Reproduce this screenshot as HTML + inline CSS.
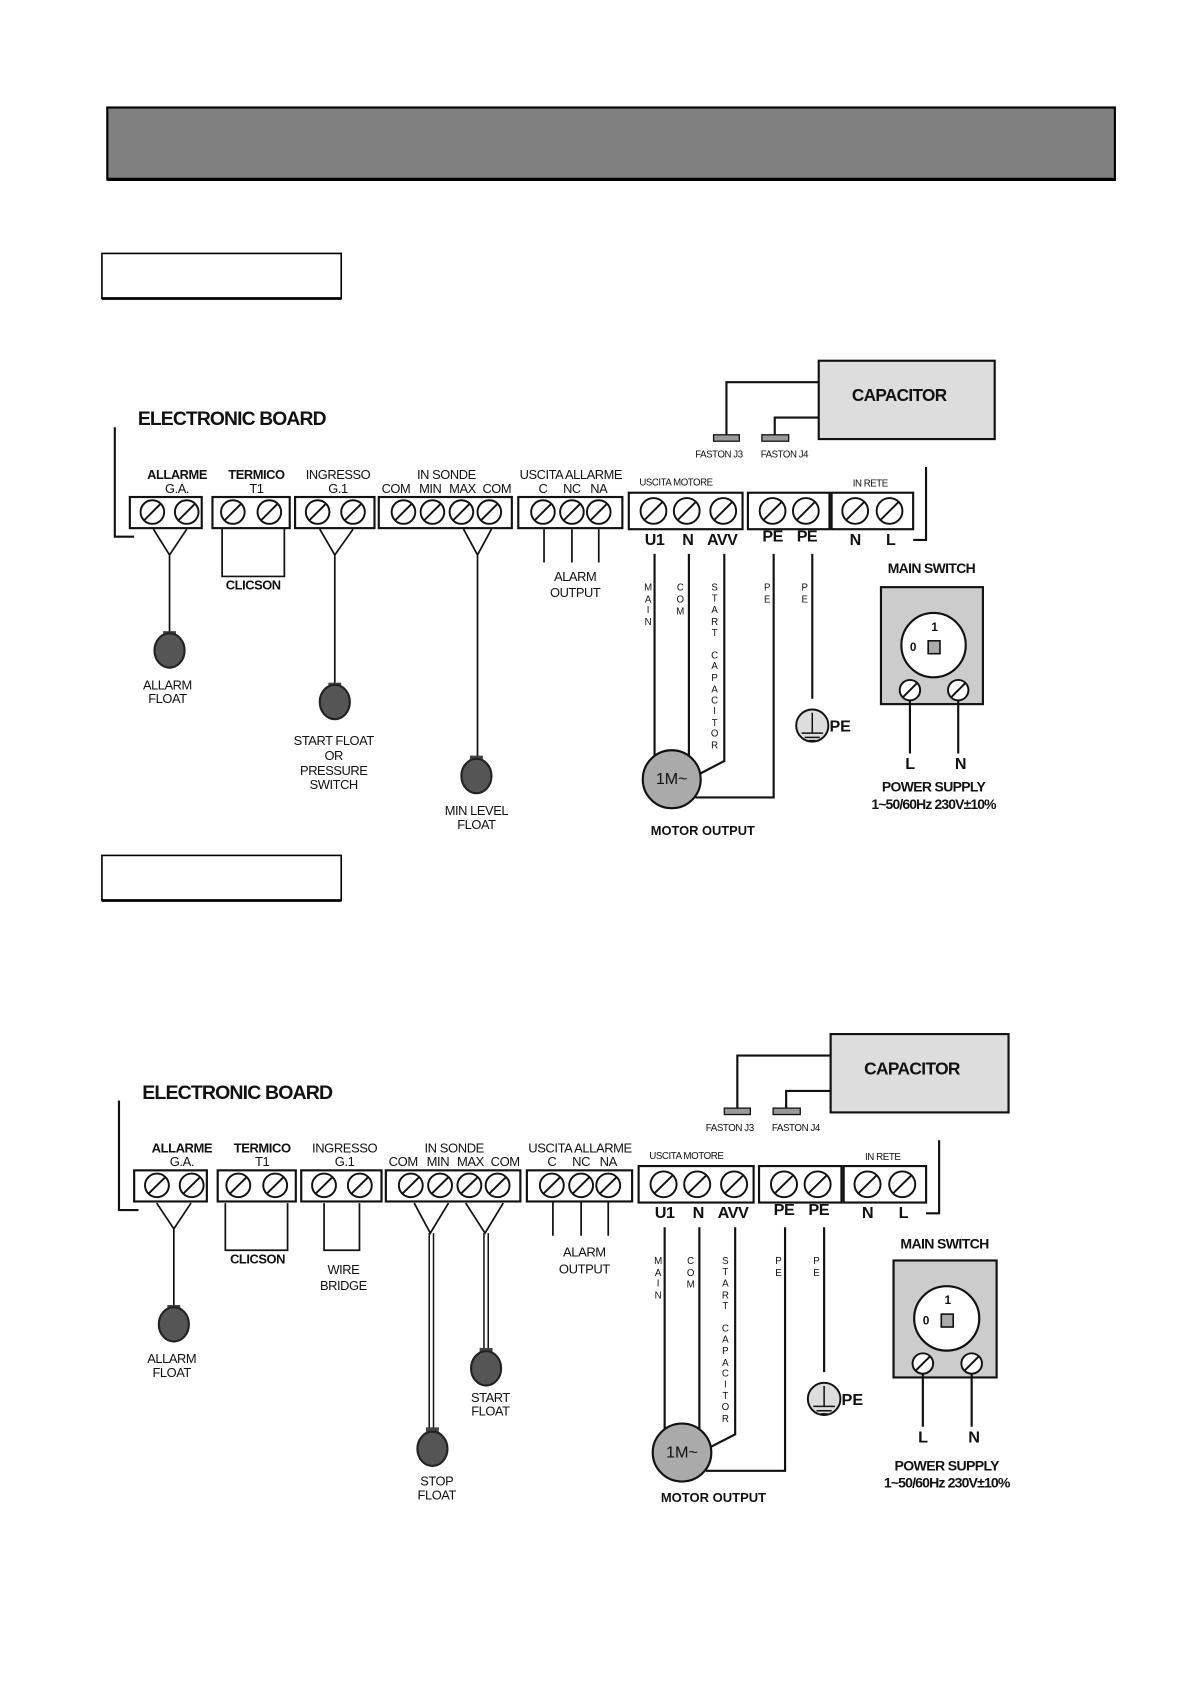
<!DOCTYPE html>
<html><head><meta charset="utf-8"><style>
html,body{margin:0;padding:0;background:#fff;}
svg{display:block;}
text{font-family:"Liberation Sans",Arial,sans-serif;fill:#111;text-anchor:middle;dominant-baseline:central;}
.t{font-size:12px;letter-spacing:-0.4px;}
.b{font-weight:bold;}
.sm{font-size:9px;letter-spacing:-0.4px;}
.v{font-size:9px;}
.big{font-size:15px;font-weight:bold;letter-spacing:-0.5px;}
.ln{stroke:#111;stroke-width:2;fill:none;}
.bx{stroke:#111;stroke-width:2;fill:#fff;}
.sc circle{stroke:#111;stroke-width:1.8;fill:#fff;}
.sc line{stroke:#111;stroke-width:1.8;}
.fl{fill:#555;stroke:#222;stroke-width:2;}
</style></head><body>
<svg width="1190" height="1684" viewBox="0 0 1109 1569" xmlns="http://www.w3.org/2000/svg">
<rect x="100" y="100" width="939" height="67" fill="#808080" stroke="#000" stroke-width="2"/>
<line x1="100" y1="167" x2="1040" y2="167" stroke="#000" stroke-width="3"/>
<rect x="95" y="236" width="223" height="42" fill="#fff" stroke="#000" stroke-width="1.5"/>
<line x1="95" y1="278" x2="318" y2="278" stroke="#000" stroke-width="2.5"/>
<rect x="95" y="797" width="223" height="42" fill="#fff" stroke="#000" stroke-width="1.5"/>
<line x1="95" y1="839" x2="318" y2="839" stroke="#000" stroke-width="2.5"/>

<!-- COMMON DIAGRAM 1 -->
<g id="d1">
<text x="216" y="391" style="font-size:18px;font-weight:bold;letter-spacing:-0.8px">ELECTRONIC BOARD</text>
<path class="ln" d="M107,398 V500 H125"/>
<path class="ln" d="M863,435 V503 H851"/>
<!-- capacitor -->
<rect x="763" y="336" width="164" height="73" fill="#ddd" stroke="#111" stroke-width="2"/>
<text x="838" y="368" style="font-size:16px;font-weight:bold;letter-spacing:-0.6px">CAPACITOR</text>
<path class="ln" d="M763,356 H677 V405"/>
<path class="ln" d="M763,389 H722 V405"/>
<rect x="665" y="405" width="24" height="6" fill="#999" stroke="#111" stroke-width="1.2"/>
<rect x="710" y="405" width="25" height="6" fill="#999" stroke="#111" stroke-width="1.2"/>
<text class="sm" x="670" y="424">FASTON J3</text>
<text class="sm" x="731" y="424">FASTON J4</text>
<!-- labels top -->
<text class="t b" x="165" y="442">ALLARME</text><text class="t" x="165" y="455">G.A.</text>
<text class="t b" x="239" y="442">TERMICO</text><text class="t" x="239" y="455">T1</text>
<text class="t" x="315" y="442">INGRESSO</text><text class="t" x="315" y="455">G.1</text>
<text class="t" x="416" y="442">IN SONDE</text>
<text class="t" x="369" y="455">COM</text><text class="t" x="401" y="455">MIN</text><text class="t" x="431" y="455">MAX</text><text class="t" x="463" y="455">COM</text>
<text class="t" x="532" y="442">USCITA ALLARME</text>
<text class="t" x="506" y="455">C</text><text class="t" x="533" y="455">NC</text><text class="t" x="558" y="455">NA</text>
<text class="sm" x="630" y="450">USCITA MOTORE</text>
<text class="sm" x="811" y="451">IN RETE</text>
<!-- boxes -->
<rect class="bx" x="121" y="463" width="67" height="29"/>
<rect class="bx" x="198" y="463" width="72" height="29"/>
<rect class="bx" x="275" y="463" width="74" height="29"/>
<rect class="bx" x="353" y="463" width="124" height="29"/>
<rect class="bx" x="483" y="463" width="97" height="29"/>
<rect class="bx" x="586" y="459" width="106" height="34"/>
<rect class="bx" x="697" y="459" width="76" height="34"/>
<rect class="bx" x="775" y="459" width="76" height="34"/>
<!-- screws -->
<g class="sc">
<circle cx="142" cy="477" r="11"/><line x1="134" y1="485" x2="150" y2="469"/>
<circle cx="174" cy="477" r="11"/><line x1="166" y1="485" x2="182" y2="469"/>
<circle cx="217" cy="477" r="11"/><line x1="209" y1="485" x2="225" y2="469"/>
<circle cx="251" cy="477" r="11"/><line x1="243" y1="485" x2="259" y2="469"/>
<circle cx="296" cy="477" r="11"/><line x1="288" y1="485" x2="304" y2="469"/>
<circle cx="329" cy="477" r="11"/><line x1="321" y1="485" x2="337" y2="469"/>
<circle cx="376" cy="477" r="11"/><line x1="368" y1="485" x2="384" y2="469"/>
<circle cx="403" cy="477" r="11"/><line x1="395" y1="485" x2="411" y2="469"/>
<circle cx="430" cy="477" r="11"/><line x1="422" y1="485" x2="438" y2="469"/>
<circle cx="456" cy="477" r="11"/><line x1="448" y1="485" x2="464" y2="469"/>
<circle cx="506" cy="477" r="11"/><line x1="498" y1="485" x2="514" y2="469"/>
<circle cx="533" cy="477" r="11"/><line x1="525" y1="485" x2="541" y2="469"/>
<circle cx="558" cy="477" r="11"/><line x1="550" y1="485" x2="566" y2="469"/>
<circle cx="609" cy="476" r="12"/><line x1="600" y1="485" x2="618" y2="467"/>
<circle cx="640" cy="476" r="12"/><line x1="631" y1="485" x2="649" y2="467"/>
<circle cx="674" cy="476" r="12"/><line x1="665" y1="485" x2="683" y2="467"/>
<circle cx="720" cy="476" r="12"/><line x1="711" y1="485" x2="729" y2="467"/>
<circle cx="751" cy="476" r="12"/><line x1="742" y1="485" x2="760" y2="467"/>
<circle cx="797" cy="476" r="12"/><line x1="788" y1="485" x2="806" y2="467"/>
<circle cx="829" cy="476" r="12"/><line x1="820" y1="485" x2="838" y2="467"/>
</g>
<text class="big" x="610" y="503">U1</text><text class="big" x="641" y="503">N</text><text class="big" x="673" y="503">AVV</text>
<text class="big" x="720" y="500">PE</text><text class="big" x="752" y="500">PE</text>
<text class="big" x="797" y="503">N</text><text class="big" x="830" y="503">L</text>
<!-- alarm output -->
<path class="ln" d="M507,493 V524 M533,493 V524 M558,493 V524" style="stroke-width:1.6"/>
<text class="t" x="536" y="537">ALARM</text><text class="t" x="536" y="552">OUTPUT</text>
<!-- motor wires -->
<path class="ln" d="M610,516 V705 M642,516 V705 M675,516 V709 L652,721 M721,516 V743 H648 M757,516 V651"/>
<circle cx="626" cy="726" r="27" fill="#aaa" stroke="#111" stroke-width="2"/>
<text x="626" y="726" style="font-size:15px">1M~</text>
<text x="655" y="774" style="font-size:12px;font-weight:bold">MOTOR OUTPUT</text>
<g class="v">
<text x="604" y="548">M</text><text x="604" y="559">A</text><text x="604" y="569">I</text><text x="604" y="580">N</text>
<text x="634" y="548">C</text><text x="634" y="559">O</text><text x="634" y="570">M</text>
<text x="666" y="548">S</text><text x="666" y="558">T</text><text x="666" y="569">A</text><text x="666" y="580">R</text><text x="666" y="590">T</text>
<text x="666" y="611">C</text><text x="666" y="621">A</text><text x="666" y="632">P</text><text x="666" y="643">A</text><text x="666" y="653">C</text><text x="666" y="663">I</text><text x="666" y="674">T</text><text x="666" y="684">O</text><text x="666" y="695">R</text>
<text x="715" y="548">P</text><text x="715" y="559">E</text>
<text x="750" y="548">P</text><text x="750" y="559">E</text>
</g>
<circle cx="757" cy="676" r="15" fill="#ddd" stroke="#111" stroke-width="1.8"/>
<path class="ln" d="M757,664 V683 M747,683 H767 M750,687 H764 M754,690 H760" style="stroke-width:1.4"/>
<text x="783" y="677" style="font-size:15px;font-weight:bold">PE</text>
<!-- main switch -->
<text x="868" y="529" style="font-size:13px;font-weight:bold;letter-spacing:-0.6px">MAIN SWITCH</text>
<rect x="821" y="547" width="95" height="109" fill="#ccc" stroke="#111" stroke-width="2"/>
<circle cx="870" cy="601" r="30" fill="#fff" stroke="#111" stroke-width="2"/>
<text x="871" y="584" style="font-size:11px;font-weight:bold">1</text>
<text x="851" y="603" style="font-size:11px;font-weight:bold">0</text>
<rect x="865" y="597" width="11" height="12" fill="#aaa" stroke="#111" stroke-width="1.5"/>
<g class="sc">
<circle cx="848" cy="643" r="9.5"/><line x1="841" y1="650" x2="855" y2="636"/>
<circle cx="893" cy="643" r="9.5"/><line x1="886" y1="650" x2="900" y2="636"/>
</g>
<path class="ln" d="M848,653 V702 M893,653 V702"/>
<text class="big" x="848" y="712">L</text><text class="big" x="895" y="712">N</text>
<text x="870" y="733" style="font-size:13px;font-weight:bold;letter-spacing:-0.6px">POWER SUPPLY</text>
<text x="870" y="749" style="font-size:13px;font-weight:bold;letter-spacing:-0.8px">1~50/60Hz 230V±10%</text>
</g>

<!-- D1 specific -->
<path class="ln" d="M143,493 L158,517 L174,493 M158,517 V592" style="stroke-width:1.6"/>
<rect x="152" y="588" width="12" height="5" fill="#444"/>
<ellipse class="fl" cx="158" cy="606" rx="14" ry="16"/>
<text class="t" x="156" y="638">ALLARM</text><text class="t" x="156" y="651">FLOAT</text>
<path class="ln" d="M207,492 V537 H265 V492" style="stroke-width:1.6"/>
<text class="t b" x="236" y="545">CLICSON</text>
<path class="ln" d="M298,493 L312,517 L329,493 M312,517 V640" style="stroke-width:1.6"/>
<rect x="306" y="636" width="12" height="5" fill="#444"/>
<ellipse class="fl" cx="312" cy="654" rx="14" ry="16"/>
<text class="t" x="311" y="690">START FLOAT</text><text class="t" x="311" y="704">OR</text><text class="t" x="311" y="718">PRESSURE</text><text class="t" x="311" y="731">SWITCH</text>
<path class="ln" d="M432,493 L445,517 L458,493 M445,517 V708" style="stroke-width:1.6"/>
<rect x="438" y="704" width="12" height="5" fill="#444"/>
<ellipse class="fl" cx="444" cy="723" rx="14" ry="16"/>
<text class="t" x="444" y="755">MIN LEVEL</text><text class="t" x="444" y="768">FLOAT</text>

<!-- D2 common -->
<g transform="translate(2.7,627.5) scale(1.011,1)">
<text x="216" y="391" style="font-size:18px;font-weight:bold;letter-spacing:-0.8px">ELECTRONIC BOARD</text>
<path class="ln" d="M107,398 V500 H125"/>
<path class="ln" d="M863,435 V503 H851"/>
<rect x="763" y="336" width="164" height="73" fill="#ddd" stroke="#111" stroke-width="2"/>
<text x="838" y="368" style="font-size:16px;font-weight:bold;letter-spacing:-0.6px">CAPACITOR</text>
<path class="ln" d="M763,356 H677 V405"/>
<path class="ln" d="M763,389 H722 V405"/>
<rect x="665" y="405" width="24" height="6" fill="#999" stroke="#111" stroke-width="1.2"/>
<rect x="710" y="405" width="25" height="6" fill="#999" stroke="#111" stroke-width="1.2"/>
<text class="sm" x="670" y="424">FASTON J3</text>
<text class="sm" x="731" y="424">FASTON J4</text>
<text class="t b" x="165" y="442">ALLARME</text><text class="t" x="165" y="455">G.A.</text>
<text class="t b" x="239" y="442">TERMICO</text><text class="t" x="239" y="455">T1</text>
<text class="t" x="315" y="442">INGRESSO</text><text class="t" x="315" y="455">G.1</text>
<text class="t" x="416" y="442">IN SONDE</text>
<text class="t" x="369" y="455">COM</text><text class="t" x="401" y="455">MIN</text><text class="t" x="431" y="455">MAX</text><text class="t" x="463" y="455">COM</text>
<text class="t" x="532" y="442">USCITA ALLARME</text>
<text class="t" x="506" y="455">C</text><text class="t" x="533" y="455">NC</text><text class="t" x="558" y="455">NA</text>
<text class="sm" x="630" y="450">USCITA MOTORE</text>
<text class="sm" x="811" y="451">IN RETE</text>
<rect class="bx" x="121" y="463" width="67" height="29"/>
<rect class="bx" x="198" y="463" width="72" height="29"/>
<rect class="bx" x="275" y="463" width="74" height="29"/>
<rect class="bx" x="353" y="463" width="124" height="29"/>
<rect class="bx" x="483" y="463" width="97" height="29"/>
<rect class="bx" x="586" y="459" width="106" height="34"/>
<rect class="bx" x="697" y="459" width="76" height="34"/>
<rect class="bx" x="775" y="459" width="76" height="34"/>
<g class="sc">
<circle cx="142" cy="477" r="11"/><line x1="134" y1="485" x2="150" y2="469"/>
<circle cx="174" cy="477" r="11"/><line x1="166" y1="485" x2="182" y2="469"/>
<circle cx="217" cy="477" r="11"/><line x1="209" y1="485" x2="225" y2="469"/>
<circle cx="251" cy="477" r="11"/><line x1="243" y1="485" x2="259" y2="469"/>
<circle cx="296" cy="477" r="11"/><line x1="288" y1="485" x2="304" y2="469"/>
<circle cx="329" cy="477" r="11"/><line x1="321" y1="485" x2="337" y2="469"/>
<circle cx="376" cy="477" r="11"/><line x1="368" y1="485" x2="384" y2="469"/>
<circle cx="403" cy="477" r="11"/><line x1="395" y1="485" x2="411" y2="469"/>
<circle cx="430" cy="477" r="11"/><line x1="422" y1="485" x2="438" y2="469"/>
<circle cx="456" cy="477" r="11"/><line x1="448" y1="485" x2="464" y2="469"/>
<circle cx="506" cy="477" r="11"/><line x1="498" y1="485" x2="514" y2="469"/>
<circle cx="533" cy="477" r="11"/><line x1="525" y1="485" x2="541" y2="469"/>
<circle cx="558" cy="477" r="11"/><line x1="550" y1="485" x2="566" y2="469"/>
<circle cx="609" cy="476" r="12"/><line x1="600" y1="485" x2="618" y2="467"/>
<circle cx="640" cy="476" r="12"/><line x1="631" y1="485" x2="649" y2="467"/>
<circle cx="674" cy="476" r="12"/><line x1="665" y1="485" x2="683" y2="467"/>
<circle cx="720" cy="476" r="12"/><line x1="711" y1="485" x2="729" y2="467"/>
<circle cx="751" cy="476" r="12"/><line x1="742" y1="485" x2="760" y2="467"/>
<circle cx="797" cy="476" r="12"/><line x1="788" y1="485" x2="806" y2="467"/>
<circle cx="829" cy="476" r="12"/><line x1="820" y1="485" x2="838" y2="467"/>
</g>
<text class="big" x="610" y="503">U1</text><text class="big" x="641" y="503">N</text><text class="big" x="673" y="503">AVV</text>
<text class="big" x="720" y="500">PE</text><text class="big" x="752" y="500">PE</text>
<text class="big" x="797" y="503">N</text><text class="big" x="830" y="503">L</text>
<path class="ln" d="M507,493 V524 M533,493 V524 M558,493 V524" style="stroke-width:1.6"/>
<text class="t" x="536" y="539">ALARM</text><text class="t" x="536" y="555">OUTPUT</text>
<path class="ln" d="M610,516 V705 M642,516 V705 M675,516 V709 L652,721 M721,516 V743 H648 M757,516 V651"/>
<circle cx="626" cy="726" r="27" fill="#aaa" stroke="#111" stroke-width="2"/>
<text x="626" y="726" style="font-size:15px">1M~</text>
<text x="655" y="768" style="font-size:12px;font-weight:bold">MOTOR OUTPUT</text>
<g class="v">
<text x="604" y="548">M</text><text x="604" y="559">A</text><text x="604" y="569">I</text><text x="604" y="580">N</text>
<text x="634" y="548">C</text><text x="634" y="559">O</text><text x="634" y="570">M</text>
<text x="666" y="548">S</text><text x="666" y="558">T</text><text x="666" y="569">A</text><text x="666" y="580">R</text><text x="666" y="590">T</text>
<text x="666" y="611">C</text><text x="666" y="621">A</text><text x="666" y="632">P</text><text x="666" y="643">A</text><text x="666" y="653">C</text><text x="666" y="663">I</text><text x="666" y="674">T</text><text x="666" y="684">O</text><text x="666" y="695">R</text>
<text x="715" y="548">P</text><text x="715" y="559">E</text>
<text x="750" y="548">P</text><text x="750" y="559">E</text>
</g>
<circle cx="757" cy="676" r="15" fill="#ddd" stroke="#111" stroke-width="1.8"/>
<path class="ln" d="M757,664 V683 M747,683 H767 M750,687 H764 M754,690 H760" style="stroke-width:1.4"/>
<text x="783" y="677" style="font-size:15px;font-weight:bold">PE</text>
<text x="868" y="531" style="font-size:13px;font-weight:bold;letter-spacing:-0.6px">MAIN SWITCH</text>
<rect x="821" y="547" width="95" height="109" fill="#ccc" stroke="#111" stroke-width="2"/>
<circle cx="870" cy="601" r="30" fill="#fff" stroke="#111" stroke-width="2"/>
<text x="871" y="584" style="font-size:11px;font-weight:bold">1</text>
<text x="851" y="603" style="font-size:11px;font-weight:bold">0</text>
<rect x="865" y="597" width="11" height="12" fill="#aaa" stroke="#111" stroke-width="1.5"/>
<g class="sc">
<circle cx="848" cy="643" r="9.5"/><line x1="841" y1="650" x2="855" y2="636"/>
<circle cx="893" cy="643" r="9.5"/><line x1="886" y1="650" x2="900" y2="636"/>
</g>
<path class="ln" d="M848,653 V702 M893,653 V702"/>
<text class="big" x="848" y="712">L</text><text class="big" x="895" y="712">N</text>
<text x="870" y="738" style="font-size:13px;font-weight:bold;letter-spacing:-0.6px">POWER SUPPLY</text>
<text x="870" y="754" style="font-size:13px;font-weight:bold;letter-spacing:-0.8px">1~50/60Hz 230V±10%</text>
</g>

<!-- D2 specific -->
<path class="ln" d="M146,1121 L162,1145 L178,1121 M162,1145 V1220" style="stroke-width:1.6"/>
<rect x="156" y="1216" width="12" height="5" fill="#444"/>
<ellipse class="fl" cx="162" cy="1234" rx="14" ry="16"/>
<text class="t" x="160" y="1266">ALLARM</text><text class="t" x="160" y="1279">FLOAT</text>
<path class="ln" d="M210,1121 V1165 H268 V1121" style="stroke-width:1.6"/>
<text class="t b" x="240" y="1173">CLICSON</text>
<path class="ln" d="M302,1121 V1165 H335 V1121" style="stroke-width:1.6"/>
<text class="t" x="320" y="1183">WIRE</text><text class="t" x="320" y="1198">BRIDGE</text>
<path class="ln" d="M386,1121 L401,1149 L418,1121 M434,1121 L452,1149 L469,1121" style="stroke-width:1.6"/>
<path class="ln" d="M400,1149 V1334 M404,1149 V1334 M451,1149 V1260 M455,1149 V1260" style="stroke-width:1.4"/>
<rect x="397" y="1330" width="12" height="5" fill="#444"/>
<ellipse class="fl" cx="403" cy="1350" rx="14" ry="16"/>
<rect x="447" y="1256" width="12" height="5" fill="#444"/>
<ellipse class="fl" cx="453" cy="1275" rx="14" ry="16"/>
<text class="t" x="457" y="1302">START</text><text class="t" x="457" y="1315">FLOAT</text>
<text class="t" x="407" y="1380">STOP</text><text class="t" x="407" y="1393">FLOAT</text>
</svg>
</body></html>
